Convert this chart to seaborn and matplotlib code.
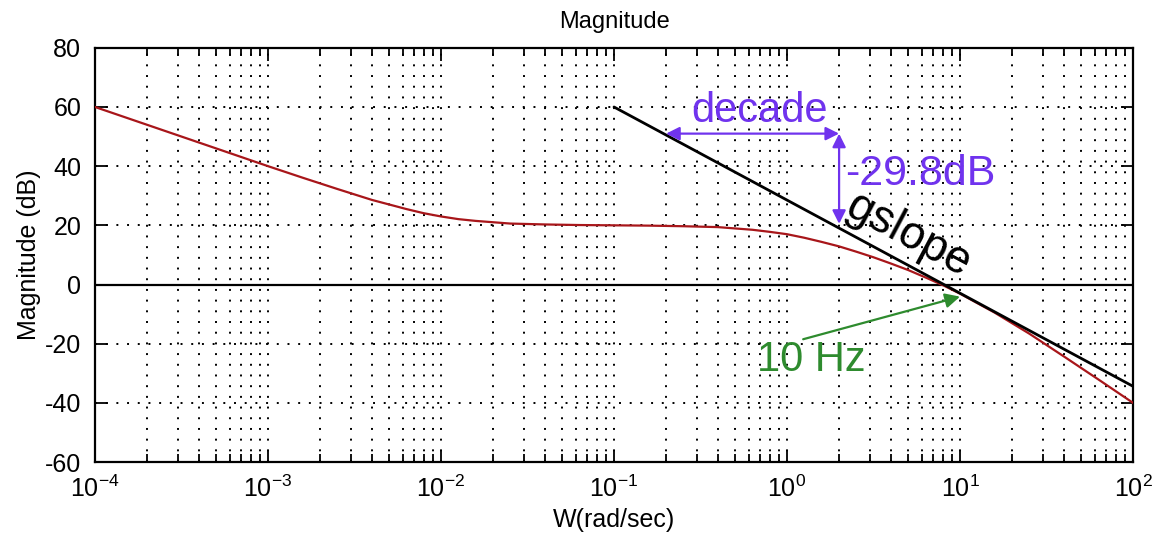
import numpy as np
import matplotlib
matplotlib.use("Agg")
import matplotlib.pyplot as plt
from matplotlib.patches import FancyArrowPatch
from matplotlib.ticker import LogLocator, FixedLocator
import seaborn as sns

# Open-loop magnitude response (dB) sampled on a log frequency grid
log_w = [-4.0, -3.8, -3.6, -3.4, -3.2, -3.0, -2.8, -2.6, -2.4, -2.2, -2.1,
         -2.0, -1.9, -1.8, -1.6, -1.4, -1.2, -1.0, -0.8, -0.6, -0.4, -0.2,
         -0.1, 0.0, 0.1, 0.2, 0.3, 0.4, 0.5, 0.6, 0.7, 0.8, 0.9, 1.0, 1.2,
         1.4, 1.6, 1.8, 2.0]
mag_db = [60.0, 56.0, 52.0, 48.0, 44.0, 40.0, 36.1, 32.3, 28.6, 25.5, 24.1,
          23.0, 22.1, 21.5, 20.6, 20.3, 20.1, 20.0, 19.9, 19.7, 19.4, 18.5,
          17.8, 17.0, 15.8, 14.4, 12.9, 11.1, 9.2, 7.1, 4.9, 2.4, -0.2, -3.1,
          -9.5, -16.6, -24.3, -32.1, -40.0]

# High-frequency asymptote ("gslope")
slope_w = [0.1, 100.0]
slope_db = [60.0, -34.4]

y_ticks = [-60, -40, -20, 0, 20, 40, 60, 80]
x_ticks = [1e-4, 1e-3, 1e-2, 1e-1, 1e0, 1e1, 1e2]

sns.set_style("ticks")
plt.rcParams["font.family"] = ["Liberation Sans", "DejaVu Sans"]
plt.rcParams["mathtext.fontset"] = "custom"
plt.rcParams["mathtext.rm"] = "Liberation Sans"
plt.rcParams["mathtext.it"] = "Liberation Sans:italic"
plt.rcParams["mathtext.bf"] = "Liberation Sans:bold"
plt.rcParams["axes.unicode_minus"] = False
for key in ("text.color", "axes.labelcolor", "xtick.color", "ytick.color",
            "axes.titlecolor"):
    plt.rcParams[key] = "black"

fig = plt.figure(figsize=(11.66, 5.41), dpi=100)
ax = fig.add_axes([0.0815, 0.146, 0.8902, 0.7656])

w = 10 ** np.array(log_w)
sns.lineplot(x=w, y=mag_db, ax=ax, color="#a8161a", lw=1.6, sort=False,
             zorder=3)
sns.lineplot(x=slope_w, y=slope_db, ax=ax, color="black", lw=2.0,
             sort=False, zorder=4)
ax.axhline(0, color="black", lw=1.6, zorder=2)

ax.set_xscale("log")
ax.set_xlim(1e-4, 1e2)
ax.set_ylim(-60, 80)
ax.xaxis.set_major_locator(FixedLocator(x_ticks))
ax.xaxis.set_minor_locator(LogLocator(base=10, subs=np.arange(2, 10),
                                      numticks=20))
ax.set_yticks(y_ticks)

dot = (0, (1, 4.5))
ax.grid(True, which="major", axis="both", color="black", lw=1.4,
        linestyle=dot, zorder=1)
ax.grid(True, which="minor", axis="x", color="black", lw=1.4,
        linestyle=dot, zorder=1)

ax.tick_params(which="both", direction="in", top=True, right=True,
               labelsize=18, width=1.3, color="black", labelcolor="black")
ax.tick_params(which="major", length=9)
ax.tick_params(which="minor", length=6)
ax.tick_params(axis="x", pad=10)
ax.tick_params(axis="y", pad=10)
for s in ax.spines.values():
    s.set_linewidth(1.6)
    s.set_color("black")

ax.set_title("Magnitude", fontsize=17, pad=14, color="black")
ax.set_xlabel("W(rad/sec)", fontsize=18, labelpad=4, color="black")
ax.set_ylabel("Magnitude (dB)", fontsize=18, labelpad=3, color="black")

purple = "#7033ee"
green = "#2e8b2e"

# one-decade span and the corresponding drop
ax.add_patch(FancyArrowPatch((0.2, 51), (2.0, 51), arrowstyle="<|-|>",
                             mutation_scale=20, color=purple, lw=1.6,
                             shrinkA=0, shrinkB=0, zorder=5))
ax.add_patch(FancyArrowPatch((2.0, 51), (2.0, 20.5), arrowstyle="<|-|>",
                             mutation_scale=20, color=purple, lw=1.6,
                             shrinkA=0, shrinkB=0, zorder=5))
ax.text(0.69, 55.0, "decade", color=purple, fontsize=30, ha="center",
        va="baseline", zorder=6)
ax.text(2.16, 33.7, "-29.8dB", color=purple, fontsize=31, ha="left",
        va="baseline", zorder=6)
ax.text(5.0, 16.6, "gslope", color="black", fontsize=33, ha="center",
        va="center", rotation=-28, rotation_mode="anchor", zorder=6)

# crossover marker
ax.add_patch(FancyArrowPatch((1.24, -18.5), (10.0, -4.1), arrowstyle="-|>",
                             mutation_scale=22, color=green, lw=1.6,
                             shrinkA=0, shrinkB=0, zorder=5))
ax.text(0.67, -29.3, "10 Hz", color=green, fontsize=30, ha="left",
        va="baseline", zorder=6)

fig.savefig("out.png", dpi=100, facecolor="white")
